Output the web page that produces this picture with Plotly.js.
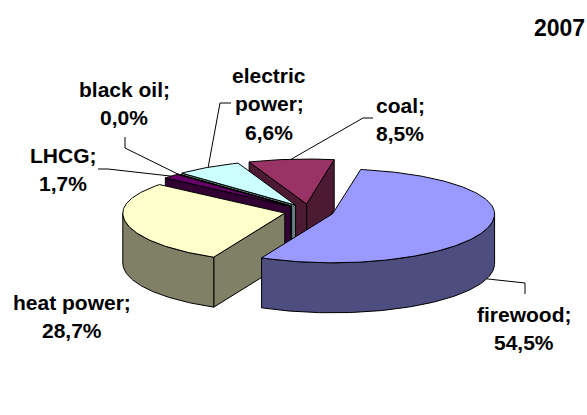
<!DOCTYPE html>
<html>
<head>
<meta charset="utf-8">
<script src="https://cdn.plot.ly/plotly-3.0.1.min.js"></script>
<style>html,body{margin:0;padding:0;background:#fff}#chart{width:587px;height:415px}</style>
</head>
<body>
<div id="chart"></div>
<script>
// Energy sources, 2007: share of the total in percent, clockwise from firewood.
const categories = ['firewood', 'heat power', 'LHCG', 'black oil', 'electric power', 'coal'];
const shares = [54.5, 28.7, 1.7, 0.0, 6.6, 8.5];
const topColors = ['#9999FF', '#FFFFCC', '#660066', '#99CCCC', '#CCFFFF', '#993366'];
const wallColors = ['#4D4D80', '#808066', '#330033', '#4D6666', '#668080', '#4D1A33'];
const yearLabel = '2007';

// Label text lines and their centres in page pixels.
const labelLines = [['firewood;'], ['heat power;'], ['LHCG;'], ['black oil;'], ['electric', 'power;'], ['coal;']];
const labelX = [524, 72, 63, 124, 269, 400];
const labelY = [314, 302, 155, 89, 75, 105];
const lineStep = 28.5;

// Elbow of each leader, nearest the label last; heat power has none.
const leaderElbows = [
  [[525, 283], [525, 294]],
  null,
  [[108, 169], [98, 169]],
  [[125, 148], [125, 137]],
  [[220, 103], [231, 103]],
  [[363, 118], [373, 118]]
];

// Projection of the exploded pie; the far half of the rim is foreshortened a little more.
const pie = {cx: 309, cy: 211.5, rx: 162, ryNear: 49, ryFar: 45, depth: 50, explode: 0.153, startDeg: 9.8};
const paintOrder = [5, 4, 3, 2, 1, 0];

const rad = d => d * Math.PI / 180;
const total = shares.reduce((a, b) => a + b, 0);

let cursor = pie.startDeg;
const slices = shares.map(v => {
  const a0 = cursor, a1 = cursor + v / total * 360;
  cursor = a1;
  const mid = rad((a0 + a1) / 2);
  return {
    a0, a1, mid: (a0 + a1) / 2,
    ox: pie.cx + Math.sin(mid) * pie.rx * pie.explode,
    oy: pie.cy - Math.cos(mid) * pie.ryNear * pie.explode
  };
});

const rimX = (s, a) => s.ox + Math.sin(rad(a)) * pie.rx;
const rimY = (s, a) => {
  const c = Math.cos(rad(a));
  return s.oy - c * (c > 0 ? pie.ryFar : pie.ryNear);
};

function arcAngles(from, to) {
  const out = [from];
  for (let a = Math.ceil(from); a < to; a += 1) if (a > from) out.push(a);
  out.push(to);
  return out;
}

function polygon(xs, ys, fill) {
  return {
    type: 'scatter', mode: 'lines', x: xs.concat(xs[0]), y: ys.concat(ys[0]),
    fill: 'toself', fillcolor: fill, line: {color: '#000', width: 1, shape: 'linear'},
    hoverinfo: 'skip', showlegend: false
  };
}

const traces = [];
paintOrder.forEach(i => {
  const s = slices[i], wall = wallColors[i];
  const radialWall = a => polygon(
    [s.ox, rimX(s, a), rimX(s, a), s.ox],
    [s.oy, rimY(s, a), rimY(s, a) + pie.depth, s.oy + pie.depth], wall);

  // Radial walls that face the viewer.
  if (Math.sin(rad(s.a1)) > 0) traces.push(radialWall(s.a1));
  if (Math.sin(rad(s.a0)) < 0) traces.push(radialWall(s.a0));

  // Outer wall on the near half of the rim.
  for (const [lo, hi] of [[90, 270], [450, 630]]) {
    const from = Math.max(s.a0, lo), to = Math.min(s.a1, hi);
    if (from < to) {
      const arc = arcAngles(from, to);
      traces.push(polygon(
        arc.map(a => rimX(s, a)).concat(arc.slice().reverse().map(a => rimX(s, a))),
        arc.map(a => rimY(s, a)).concat(arc.slice().reverse().map(a => rimY(s, a) + pie.depth)),
        wall));
    }
  }

  // Top face.
  const arc = arcAngles(s.a0, s.a1);
  traces.push(polygon(
    [s.ox].concat(arc.map(a => rimX(s, a))),
    [s.oy].concat(arc.map(a => rimY(s, a))), topColors[i]));
});

// Leaders run from the middle of each slice's rim to the label elbow.
slices.forEach((s, i) => {
  if (!leaderElbows[i]) return;
  const a = s.mid % 360;
  const drop = (a > 90 && a < 270) ? pie.depth : 0;
  traces.push({
    type: 'scatter', mode: 'lines',
    x: [rimX(s, s.mid)].concat(leaderElbows[i].map(p => p[0])),
    y: [rimY(s, s.mid) + drop].concat(leaderElbows[i].map(p => p[1])),
    line: {color: '#000', width: 1}, hoverinfo: 'skip', showlegend: false
  });
});

const note = (text, x, y, size) => ({
  text: '<b>' + text + '</b>', x, y, xref: 'x', yref: 'y',
  xanchor: 'center', yanchor: 'middle', showarrow: false,
  font: {family: '"Liberation Sans", Arial, sans-serif', size, color: '#000'}
});

const annotations = [note(yearLabel, 559, 28, 23)];
categories.forEach((c, i) => {
  const lines = labelLines[i].concat(shares[i].toFixed(1).replace('.', ',') + '%');
  lines.forEach((t, k) => annotations.push(note(t, labelX[i], labelY[i] + k * lineStep, 21)));
});

Plotly.newPlot('chart', traces, {
  width: 587, height: 415,
  margin: {l: 0, r: 0, t: 0, b: 0},
  paper_bgcolor: '#fff', plot_bgcolor: '#fff',
  xaxis: {range: [0, 587], visible: false, fixedrange: true},
  yaxis: {range: [415, 0], visible: false, fixedrange: true},
  annotations, showlegend: false, hovermode: false
}, {displayModeBar: false, staticPlot: true});
</script>
</body>
</html>
